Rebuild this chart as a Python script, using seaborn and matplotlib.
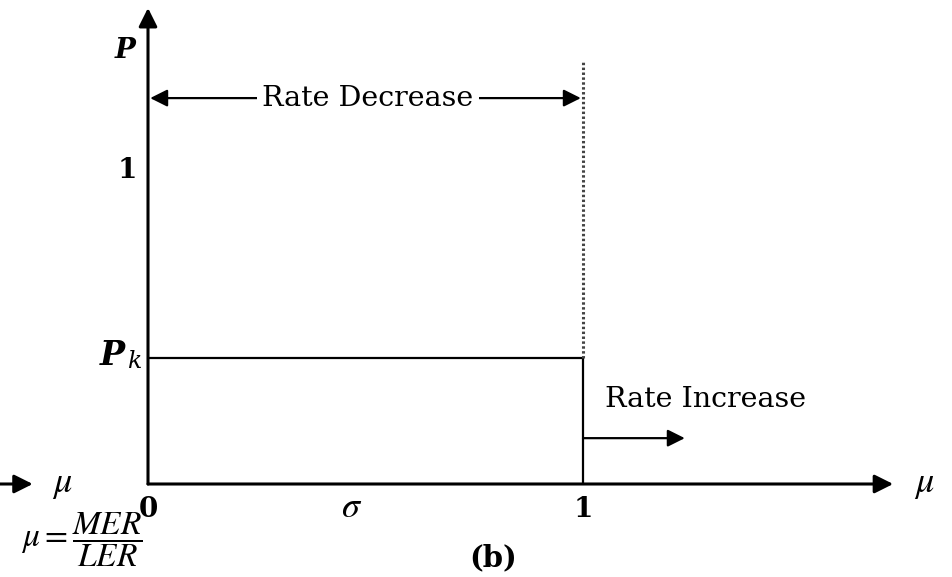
import matplotlib
matplotlib.use("Agg")
import matplotlib.pyplot as plt
import pandas as pd
import seaborn as sns

# values (data units: sigma on x, p on y)
p_k = 0.4
sigma_one = 1.0
p_one = 1.0
step_x = [0.0, sigma_one, sigma_one]
step_p = [p_k, p_k, 0.0]
bound_x = [sigma_one, sigma_one]
bound_p = [p_k, 1.35]
x_ticks = [0.0, sigma_one]
x_tick_labels = ["0", "1"]

sns.set_theme(style="white")
plt.rcParams["font.family"] = ["DejaVu Serif"]
plt.rcParams["mathtext.fontset"] = "stix"
plt.rcParams["text.color"] = "black"

fig = plt.figure(figsize=(9.52, 5.77), dpi=100)
ax = fig.add_axes([0, 0, 1, 1])
ax.set_xlim(-148 / 435, 804 / 435)
ax.set_ylim(-93 / 314, 484 / 314)
ax.set_axis_off()

step = pd.DataFrame({"sigma": step_x, "p": step_p})
sns.lineplot(data=step, x="sigma", y="p", estimator=None, sort=False,
             color="black", lw=1.6, ax=ax)
bound = pd.DataFrame({"sigma": bound_x, "p": bound_p})
sns.lineplot(data=bound, x="sigma", y="p", estimator=None, sort=False,
             color="#444444", lw=2.2, linestyle=(0, (0.8, 0.8)), ax=ax)

arrow = dict(arrowstyle="-|>", color="black", lw=2.2, mutation_scale=28,
             shrinkA=0, shrinkB=0)
# axes
ax.annotate("", xy=(1.713, 0), xytext=(0, 0), arrowprops=arrow)
ax.annotate("", xy=(0, 1.516), xytext=(0, 0), arrowprops=arrow)
ax.annotate("", xy=(-0.265, 0), xytext=(-0.345, 0), arrowprops=arrow)

ax.text(-0.197, 0.0, r"$\mu$", fontsize=26, ha="center", va="center")
ax.text(1.785, 0.0, r"$\mu$", fontsize=26, ha="center", va="center")

# rate decrease double arrow
thin = dict(arrowstyle="<|-|>", color="black", lw=1.6, mutation_scale=26,
            shrinkA=0, shrinkB=0)
ax.annotate("", xy=(0.005, 1.229), xytext=(sigma_one - 0.005, 1.229),
            arrowprops=thin)
ax.text(0.506, 1.229, "Rate Decrease", fontsize=20.5, ha="center",
        va="center", bbox=dict(facecolor="white", edgecolor="none", pad=4))

# rate increase
one_way = dict(arrowstyle="-|>", color="black", lw=1.6, mutation_scale=26,
               shrinkA=0, shrinkB=0)
ax.annotate("", xy=(1.234, 0.146), xytext=(sigma_one, 0.146),
            arrowprops=one_way)
ax.text(1.05, 0.268, "Rate Increase", fontsize=20.5, ha="left", va="center")

# axis labels
ax.text(-0.053, 1.38, "P", fontsize=20, fontweight="bold", fontstyle="italic",
        ha="center", va="center")
ax.text(-0.048, p_one, "1", fontsize=20, fontweight="bold",
        ha="center", va="center")
ax.text(-0.083, p_k + 0.01, "P", fontsize=24, fontweight="bold",
        fontstyle="italic", ha="center", va="center")
ax.text(-0.032, p_k - 0.01, "k", fontsize=17, fontstyle="italic",
        ha="center", va="center")
for xt, lab in zip(x_ticks, x_tick_labels):
    ax.text(xt, -0.08, lab, fontsize=20, fontweight="bold",
            ha="center", va="center")
ax.text(0.469, -0.073, r"$\sigma$", fontsize=26, ha="center", va="center")
ax.text(0.793, -0.236, "(b)", fontsize=21, fontweight="bold",
        ha="center", va="center")
ax.text(-0.153, -0.178, r"$\mu = \dfrac{MER}{LER}$", fontsize=24,
        ha="center", va="center")

fig.savefig("out.png", dpi=100)
